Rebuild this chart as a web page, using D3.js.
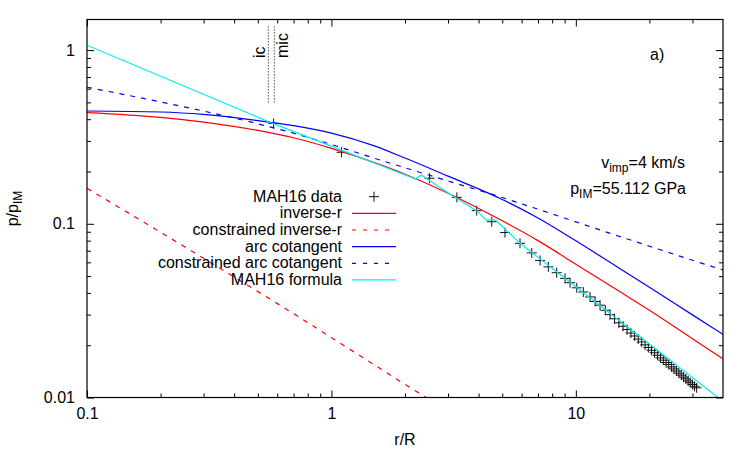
<!DOCTYPE html>
<html>
<head>
<meta charset="utf-8">
<script src="https://cdn.jsdelivr.net/npm/d3@7"></script>
<style>
    body { margin: 0; background: #fff; }
    text { font-family: "Liberation Sans", Arial, sans-serif; }
</style>
</head>
<body>
<script>
    // Data
    let rGrid = [0.1, 0.2, 0.3, 0.5, 0.7, 1, 1.5, 2, 3, 5, 7, 10, 15, 20, 30, 40];
    let inverseR = [0.437, 0.410, 0.385, 0.345, 0.313, 0.272, 0.225, 0.193, 0.150, 0.104, 0.080, 0.0585, 0.0410, 0.0318, 0.0218, 0.0167];
    let arcCot = [0.446, 0.440, 0.426, 0.393, 0.367, 0.333, 0.281, 0.239, 0.188, 0.138, 0.108, 0.0798, 0.0557, 0.0431, 0.0299, 0.0231];
    let constrainedArcCot = [0.611, 0.503, 0.4455, 0.3764, 0.3323, 0.2861, 0.2384, 0.2101, 0.1764, 0.1416, 0.1213, 0.1026, 0.0848, 0.0743, 0.0617, 0.0542];

    let constrainedInvR_r = [0.1, 0.2, 0.3, 0.5, 0.7, 1, 1.5, 2, 2.5];
    let constrainedInvR_p = [0.160, 0.0894, 0.0633, 0.0407, 0.0304, 0.0221, 0.0154, 0.0119, 0.0098];

    let formula_r = [0.1, 0.579, 2.21, 2.33, 3.15, 3.94, 4.29, 4.69, 5.91, 40];
    let formula_p = [1.067, 0.377, 0.181, 0.191, 0.144, 0.1186, 0.1052, 0.1052, 0.0772, 0.0095];

    let mah_r = [0.58, 1.10, 2.52, 3.26, 3.93, 4.53, 5.13, 5.91, 6.60, 7.14,
        7.72, 8.35, 9.03, 9.47, 10.09, 10.73, 11.43, 11.99, 12.56, 13.2,
        13.8, 14.4, 15.0, 15.6, 16.2, 16.8, 17.4, 18.0, 18.6, 19.2,
        19.8, 20.4, 21.0, 21.6, 22.2, 22.8, 23.4, 24.0, 24.6, 25.2,
        25.8, 26.4, 27.0, 27.6, 28.2, 28.8, 29.4, 30.0, 30.6, 31.2];
    let mah_p = [0.378, 0.258, 0.183, 0.142, 0.119, 0.1028, 0.089, 0.0772, 0.068, 0.0615,
        0.0565, 0.0523, 0.0485, 0.0458, 0.0428, 0.0405, 0.0379, 0.0357, 0.0340, 0.0318,
        0.0300, 0.0284, 0.0269, 0.0257, 0.0246, 0.0235, 0.0226, 0.0217, 0.0209, 0.0201,
        0.0194, 0.0187, 0.0181, 0.0175, 0.0169, 0.0164, 0.0159, 0.0155, 0.0150, 0.0146,
        0.0142, 0.0138, 0.01345, 0.0131, 0.0128, 0.01246, 0.01216, 0.01188, 0.0116, 0.01137];

    // vertical markers (r/R), drawn between these p values
    let radiusNames = ["ic", "mic"];
    let radiusValues = [0.552, 0.584];
    let radiusSpan = [0.5, 1.4];

    let xTicks = [0.1, 1, 10];
    let yTicks = [0.01, 0.1, 1];
    let legendNames = ["MAH16 data", "inverse-r", "constrained inverse-r", "arc cotangent", "constrained arc cotangent", "MAH16 formula"];

    // Set up SVG
    let margin = { top: 19.5, right: 27, bottom: 52.5, left: 87 };
    let width = 750 - margin.left - margin.right;
    let height = 450 - margin.top - margin.bottom;

    let svg = d3.select("body")
        .append("svg")
        .attr("width", 750)
        .attr("height", 450);

    let g = svg.append("g")
        .attr("transform", `translate(${margin.left}, ${margin.top})`);

    let x = d3.scaleLog().domain([0.1, 40]).range([0, width]);
    let y = d3.scaleLog().domain([0.01, 1.5]).range([height, 0]);

    let font = "'Liberation Sans', Arial, sans-serif";

    // minor ticks 2..9 per decade
    let xMinor = [];
    [0.1, 1, 10].forEach(d => { for (let k = 2; k <= 9; k++) { if (d * k < 40) xMinor.push(d * k); } });
    let yMinor = [];
    [0.01, 0.1].forEach(d => { for (let k = 2; k <= 9; k++) yMinor.push(d * k); });

    function styleAxis(sel) {
        sel.select(".domain").remove();
        sel.selectAll("line").attr("stroke", "#000");
        sel.attr("font-family", font).attr("font-size", 16);
        sel.selectAll("text").attr("fill", "#000");
    }

    // Axes (gnuplot style, ticks inward, mirrored)
    g.append("g").attr("transform", `translate(0, ${height})`)
        .call(d3.axisBottom(x).tickValues(xTicks).tickFormat(d3.format("~g")).tickSizeInner(-7).tickSizeOuter(0).tickPadding(10))
        .call(styleAxis);
    g.append("g").attr("transform", `translate(0, ${height})`)
        .call(d3.axisBottom(x).tickValues(xMinor).tickFormat("").tickSizeInner(-4).tickSizeOuter(0))
        .call(styleAxis);
    g.append("g")
        .call(d3.axisTop(x).tickValues(xTicks).tickFormat("").tickSizeInner(-7).tickSizeOuter(0))
        .call(styleAxis);
    g.append("g")
        .call(d3.axisTop(x).tickValues(xMinor).tickFormat("").tickSizeInner(-4).tickSizeOuter(0))
        .call(styleAxis);
    g.append("g")
        .call(d3.axisLeft(y).tickValues(yTicks).tickFormat(d3.format("~g")).tickSizeInner(-7).tickSizeOuter(0).tickPadding(12))
        .call(styleAxis);
    g.append("g")
        .call(d3.axisLeft(y).tickValues(yMinor).tickFormat("").tickSizeInner(-4).tickSizeOuter(0))
        .call(styleAxis);
    g.append("g").attr("transform", `translate(${width}, 0)`)
        .call(d3.axisRight(y).tickValues(yTicks).tickFormat("").tickSizeInner(-7).tickSizeOuter(0))
        .call(styleAxis);
    g.append("g").attr("transform", `translate(${width}, 0)`)
        .call(d3.axisRight(y).tickValues(yMinor).tickFormat("").tickSizeInner(-4).tickSizeOuter(0))
        .call(styleAxis);

    // Clip
    g.append("clipPath").attr("id", "plotclip")
        .append("rect").attr("width", width).attr("height", height);
    let plot = g.append("g").attr("clip-path", "url(#plotclip)");

    let smooth = d3.line().x(d => x(d[0])).y(d => y(d[1])).curve(d3.curveMonotoneX);
    let straight = d3.line().x(d => x(d[0])).y(d => y(d[1]));

    // vertical dotted lines
    radiusValues.forEach((r, i) => {
        g.append("line")
            .attr("x1", x(r)).attr("x2", x(r))
            .attr("y1", y(radiusSpan[0])).attr("y2", y(radiusSpan[1]))
            .attr("stroke", "#000").attr("stroke-width", 1)
            .attr("stroke-dasharray", "1,2");
    });
    g.append("text")
        .attr("transform", `translate(${x(radiusValues[0]) - 3}, 38.5) rotate(-90)`)
        .attr("font-size", 16)
        .text(radiusNames[0]);
    g.append("text")
        .attr("transform", `translate(${x(radiusValues[1]) + 13.5}, 38.5) rotate(-90)`)
        .attr("font-size", 16)
        .text(radiusNames[1]);

    // MAH16 data points
    let pts = mah_r.map((r, i) => [r, mah_p[i]]);
    plot.selectAll("path.pt")
        .data(pts)
        .enter()
        .append("path")
        .attr("class", "pt")
        .attr("d", "M-5,0H5M0,-5V5")
        .attr("transform", d => `translate(${x(d[0])}, ${y(d[1])})`)
        .attr("stroke", "#111")
        .attr("stroke-width", 1)
        .attr("fill", "none");

    // Curves
    let lineW = 1.2;
    plot.append("path")
        .attr("d", smooth(rGrid.map((r, i) => [r, inverseR[i]])))
        .attr("fill", "none").attr("stroke", "#ff0000").attr("stroke-width", lineW);
    plot.append("path")
        .attr("d", smooth(constrainedInvR_r.map((r, i) => [r, constrainedInvR_p[i]])))
        .attr("fill", "none").attr("stroke", "#ff0000").attr("stroke-width", lineW)
        .attr("stroke-dasharray", "5,6");
    plot.append("path")
        .attr("d", smooth(rGrid.map((r, i) => [r, arcCot[i]])))
        .attr("fill", "none").attr("stroke", "#0000ff").attr("stroke-width", lineW);
    plot.append("path")
        .attr("d", smooth(rGrid.map((r, i) => [r, constrainedArcCot[i]])))
        .attr("fill", "none").attr("stroke", "#0000ff").attr("stroke-width", lineW)
        .attr("stroke-dasharray", "5,6");
    plot.append("path")
        .attr("d", straight(formula_r.map((r, i) => [r, formula_p[i]])))
        .attr("fill", "none").attr("stroke", "#00eeee").attr("stroke-width", lineW);

    // Frame
    g.append("rect")
        .attr("width", width).attr("height", height)
        .attr("fill", "none").attr("stroke", "#000").attr("stroke-width", 1.2);

    // Legend
    let legendStyles = [
        { color: "#111", dash: null, point: true },
        { color: "#ff0000", dash: null },
        { color: "#ff0000", dash: "4,7" },
        { color: "#0000ff", dash: null },
        { color: "#0000ff", dash: "4,7" },
        { color: "#00eeee", dash: null }
    ];
    let legend = svg.append("g");
    legendNames.forEach((name, i) => {
        let cy = 196.7 + i * 16.65;
        legend.append("text")
            .attr("x", 342).attr("y", cy + 5)
            .attr("text-anchor", "end")
            .attr("font-size", 16)
            .text(name);
        let st = legendStyles[i];
        if (st.point) {
            legend.append("path")
                .attr("d", "M-5,0H5M0,-5V5")
                .attr("transform", `translate(374, ${cy})`)
                .attr("stroke", st.color).attr("fill", "none");
        } else {
            legend.append("line")
                .attr("x1", 352).attr("x2", 396)
                .attr("y1", cy).attr("y2", cy)
                .attr("stroke", st.color).attr("stroke-width", lineW)
                .attr("stroke-dasharray", st.dash);
        }
    });

    // Annotations
    svg.append("text").attr("x", 650).attr("y", 60).attr("font-size", 16).text("a)");

    let t1 = svg.append("text").attr("x", 685).attr("y", 168).attr("text-anchor", "end").attr("font-size", 16);
    t1.append("tspan").text("v");
    t1.append("tspan").attr("font-size", 12).attr("dy", 4).text("imp");
    t1.append("tspan").attr("dy", -4).text("=4 km/s");

    let t2 = svg.append("text").attr("x", 686).attr("y", 194).attr("text-anchor", "end").attr("font-size", 16);
    t2.append("tspan").text("p");
    t2.append("tspan").attr("font-size", 12).attr("dy", 4).text("IM");
    t2.append("tspan").attr("dy", -4).text("=55.112 GPa");

    // Axis titles
    let yl = svg.append("text")
        .attr("transform", `translate(18, ${margin.top + height / 2}) rotate(-90)`)
        .attr("text-anchor", "middle")
        .attr("font-size", 16);
    yl.append("tspan").text("p/p");
    yl.append("tspan").attr("font-size", 12).attr("dy", 4).text("IM");

    svg.append("text")
        .attr("x", margin.left + width / 2).attr("y", 445)
        .attr("text-anchor", "middle")
        .attr("font-size", 16)
        .text("r/R");
</script>
</body>
</html>
